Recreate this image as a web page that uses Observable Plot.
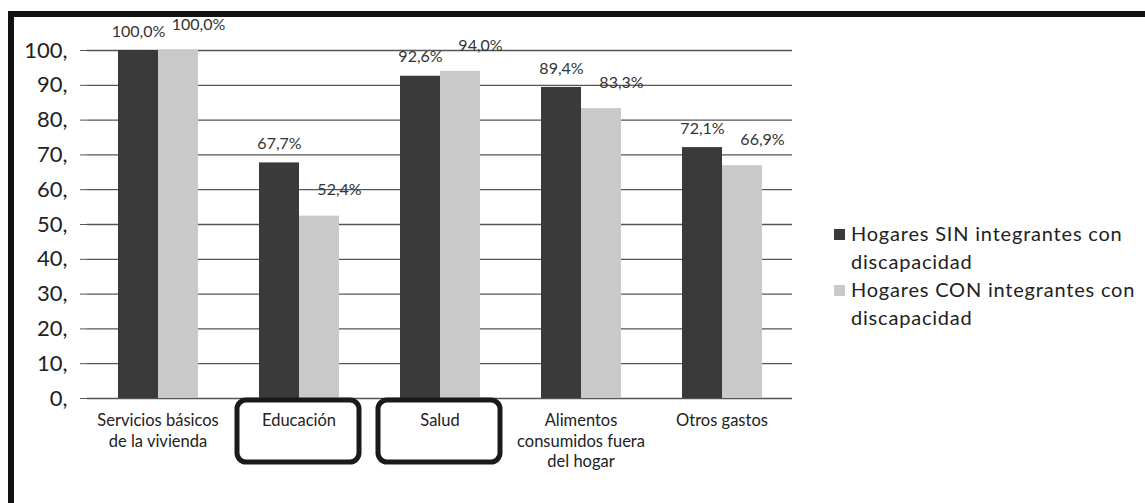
<!DOCTYPE html>
<html>
<head>
<meta charset="utf-8">
<script src="https://cdn.jsdelivr.net/npm/d3@7"></script>
<script src="https://cdn.jsdelivr.net/npm/@observablehq/plot@0.6"></script>
<style>
  html, body { margin: 0; padding: 0; background: #fff; }
  #wrap { position: relative; width: 1145px; height: 503px; overflow: hidden; font-family: Lato, "Open Sans", sans-serif; }
  #border { position: absolute; left: 8px; top: 11px; width: 1200px; height: 600px; border: 6px solid #111; box-sizing: border-box; }
  #chart { position: absolute; left: 0; top: 0; }
  #legend { position: absolute; left: 834px; top: 219px; color: #222; font-size: 20px; line-height: 28px; letter-spacing: 0.8px; }
  .item { position: relative; padding-left: 17px; margin-bottom: 0px; }
  .sw { position: absolute; left: 0; top: 10px; width: 11px; height: 11px; }
</style>
</head>
<body>
<div id="wrap">
  <div id="border"></div>
  <div id="chart"></div>
  <div id="legend"></div>
</div>
<script>
const categories = ["Servicios básicos de la vivienda", "Educación", "Salud", "Alimentos consumidos fuera del hogar", "Otros gastos"];
const tickLabels = ["Servicios básicos\nde la vivienda", "Educación", "Salud", "Alimentos\nconsumidos fuera\ndel hogar", "Otros gastos"];
const seriesNames = ["Hogares SIN integrantes con discapacidad", "Hogares CON integrantes con discapacidad"];
const sinValues = [100.0, 67.7, 92.6, 89.4, 72.1];
const conValues = [100.0, 52.4, 94.0, 83.3, 66.9];
const yTicks = [0, 10, 20, 30, 40, 50, 60, 70, 80, 90, 100];
const highlighted = ["Educación", "Salud"];
const colors = ["#3a3a3a", "#c9c9c9"];

const data = [];
categories.forEach((c, i) => {
  data.push({category: c, series: seriesNames[0], value: sinValues[i]});
  data.push({category: c, series: seriesNames[1], value: conValues[i]});
});
const fmt = v => v.toFixed(1).replace(".", ",") + "%";
const labelOf = new Map(categories.map((c, i) => [c, tickLabels[i]]));

const font = "Lato, 'Open Sans', sans-serif";

const chart = Plot.plot({
  width: 1145,
  height: 503,
  marginLeft: 85,
  marginRight: 352,
  marginTop: 50,
  marginBottom: 105,
  style: {fontFamily: font, background: "transparent", overflow: "visible"},
  fx: {domain: categories, padding: 0, label: null, axis: null},
  x: {domain: seriesNames, paddingInner: 0, paddingOuter: 0.72, axis: null},
  y: {domain: [0, 100], label: null},
  color: {domain: seriesNames, range: colors},
  marks: [
    Plot.ruleY(yTicks, {stroke: "#555", strokeWidth: 1.3}),
    Plot.axisY({ticks: yTicks, tickSize: 0, line: true, stroke: "#bbb", tickFormat: () => ""}),
    Plot.axisY({ticks: yTicks, tickSize: 7, stroke: "#555", tickPadding: 13, fontSize: 22, fill: "#222", tickFormat: d => d + ",", label: null}),
    Plot.axisFx({anchor: "bottom", tickSize: 0, tickPadding: 13, fontSize: 16.5, fill: "#222", lineHeight: 1.25, tickFormat: d => labelOf.get(d), label: null}),
    Plot.barY(data, {fx: "category", x: "series", y: "value", fill: "series"}),
    Plot.text(data.filter(d => d.series === seriesNames[0]), {fx: "category", x: "series", y: "value", text: d => fmt(d.value), dy: -19, fontSize: 16, fill: "#333"}),
    Plot.text(data.filter(d => d.series === seriesNames[1]), {fx: "category", x: "series", y: "value", text: d => fmt(d.value), dy: -26, dx: 20, fontSize: 16, fill: "#333"}),
    Plot.rect(highlighted, {fx: d => d, insetTop: 350, insetBottom: -64, insetLeft: 9, insetRight: 10, rx: 9, fill: "none", stroke: "#1a1a1a", strokeWidth: 5})
  ]
});
document.getElementById("chart").appendChild(chart);

const legend = document.getElementById("legend");
seriesNames.forEach((s, i) => {
  const div = document.createElement("div");
  div.className = "item";
  const words = s.split(" ");
  const last = words.pop();
  div.innerHTML = `<span class="sw" style="background:${colors[i]}"></span>${words.join(" ")}<br>${last}`;
  legend.appendChild(div);
});
</script>
</body>
</html>
